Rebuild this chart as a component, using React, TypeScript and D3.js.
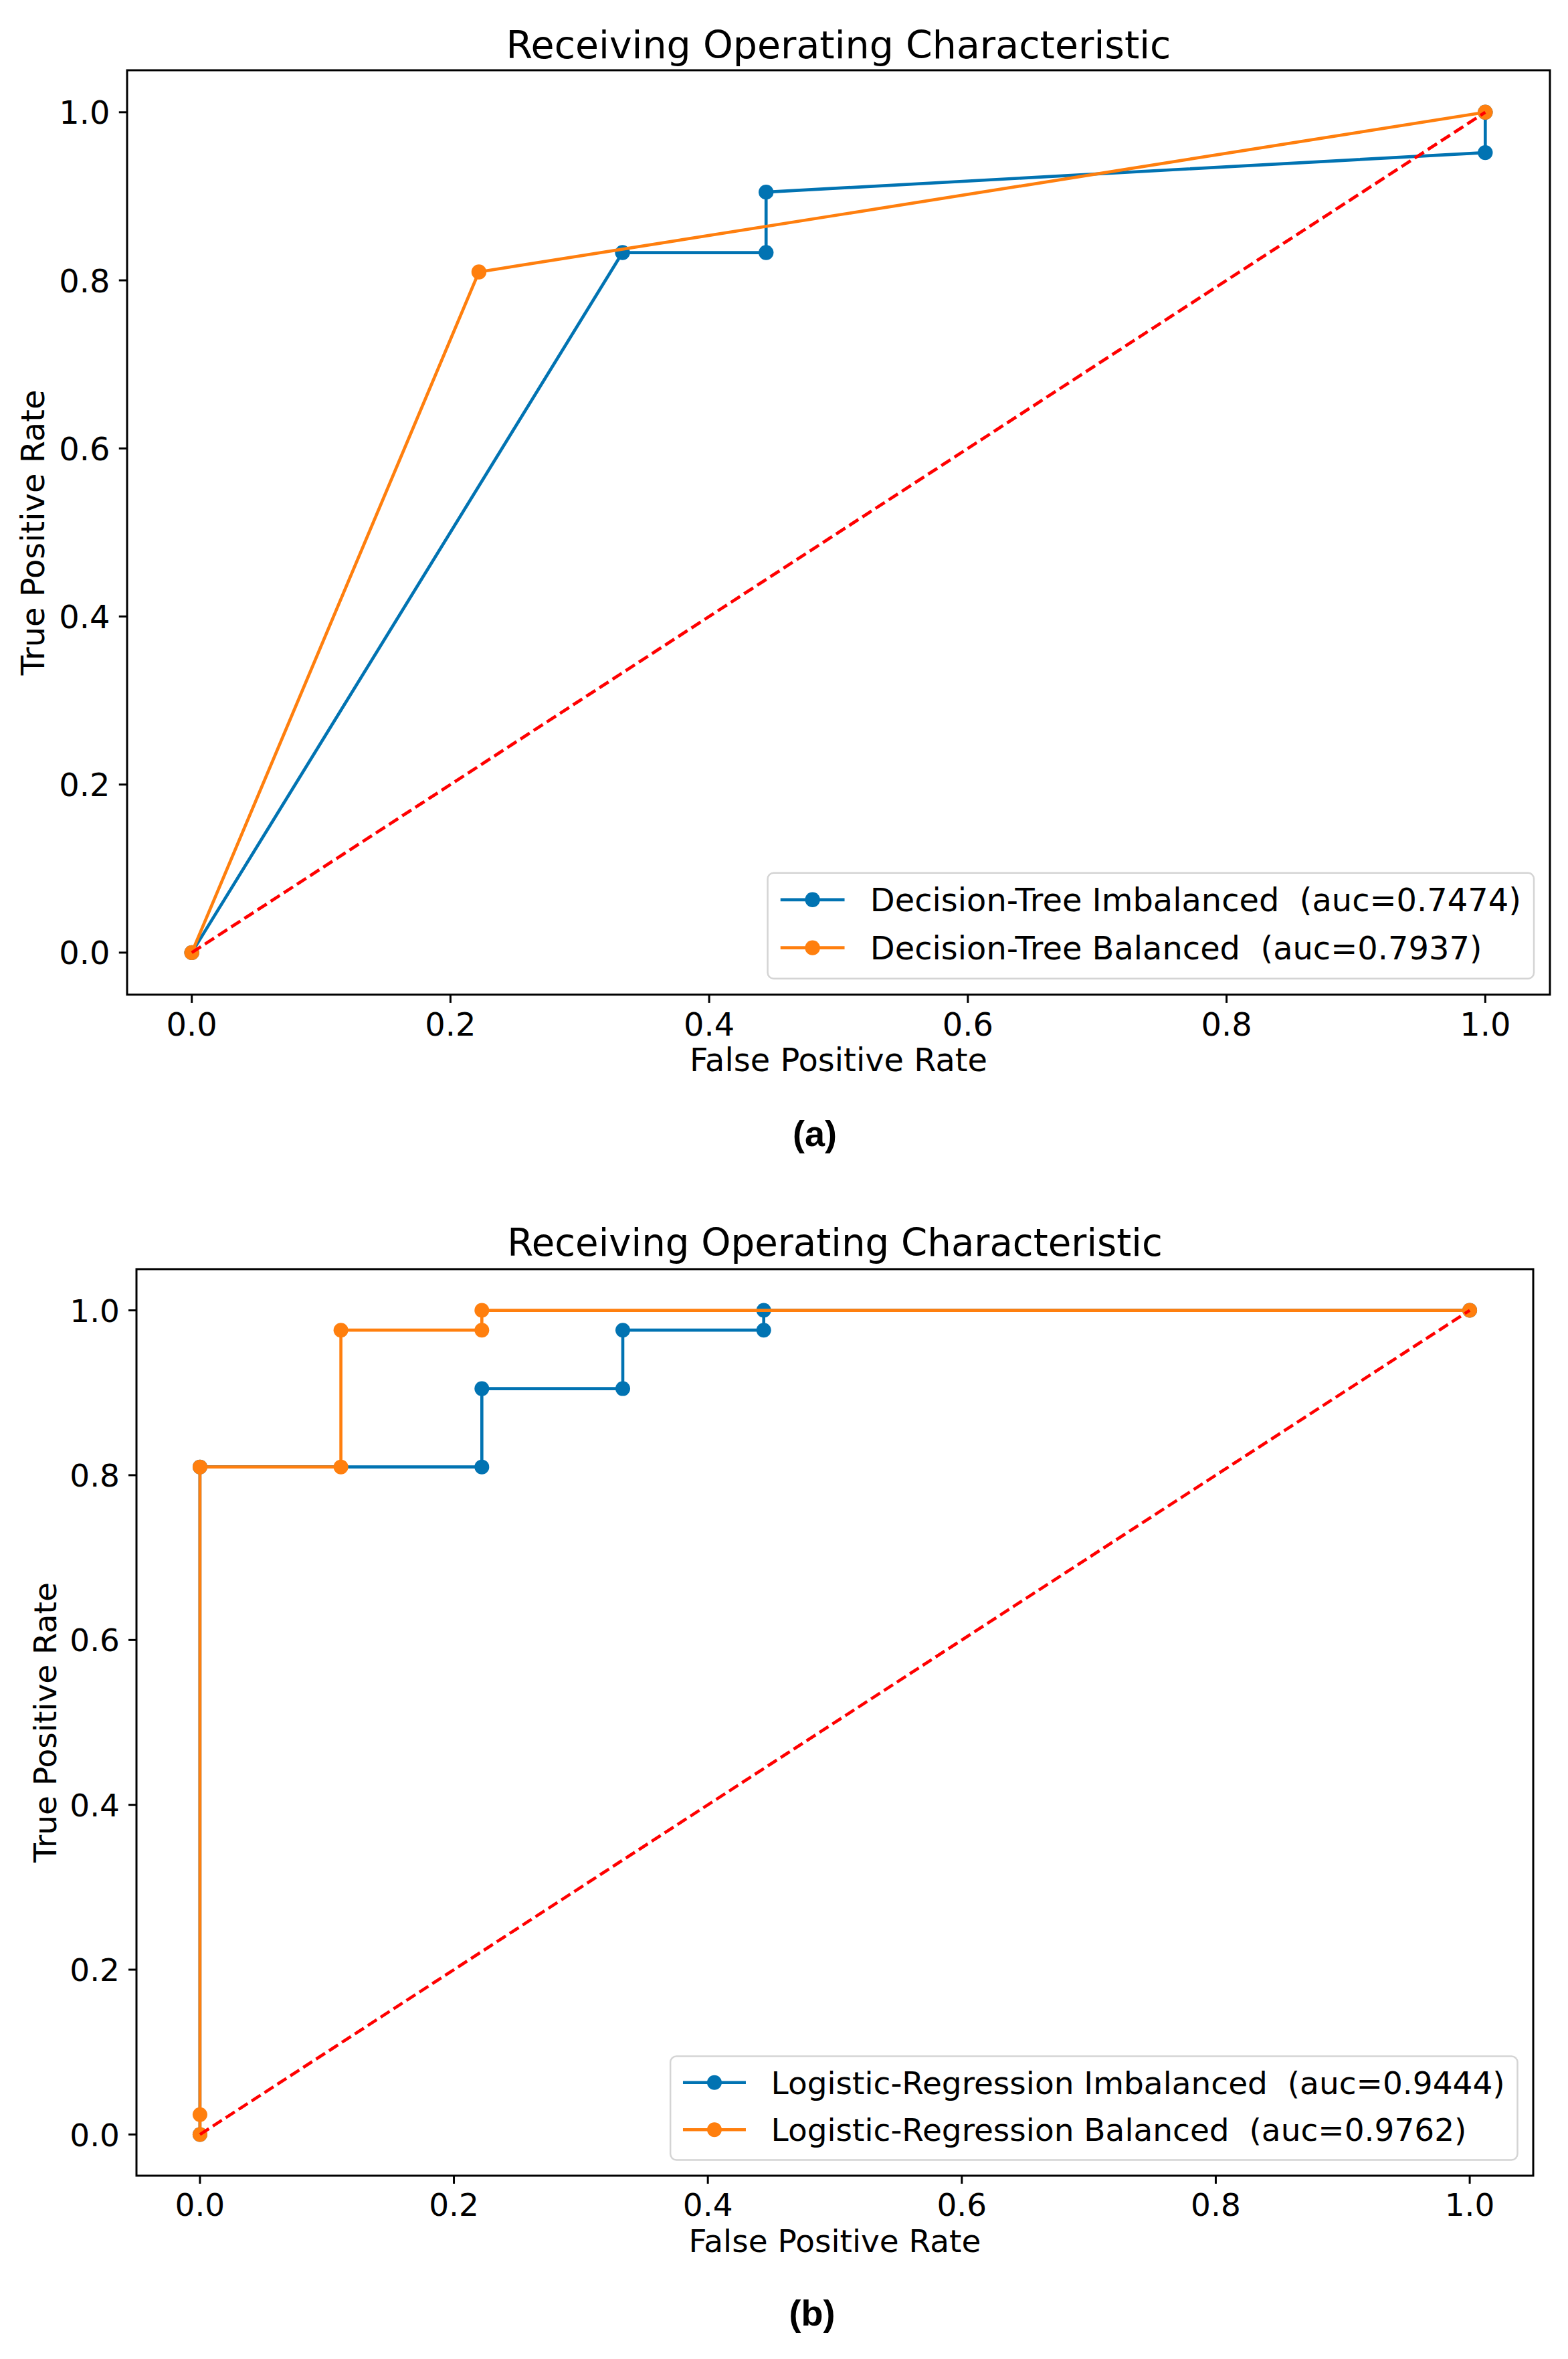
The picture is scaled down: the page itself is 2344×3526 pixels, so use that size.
import React from "react";
import * as d3 from "d3";

// ---------- data ----------
const xTicks = [0, 0.2, 0.4, 0.6, 0.8, 1.0];
const yTicks = [0, 0.2, 0.4, 0.6, 0.8, 1.0];
const tickFormat = (v: number) => v.toFixed(1);

const chartTitle = "Receiving Operating Characteristic";
const xLabel = "False Positive Rate";
const yLabel = "True Positive Rate";

// Panel (a): Decision tree
const dtImbFpr = [0, 0.333, 0.444, 0.444, 1.0, 1.0];
const dtImbTpr = [0, 0.833, 0.833, 0.905, 0.952, 1.0];
const dtBalFpr = [0, 0.222, 1.0];
const dtBalTpr = [0, 0.81, 1.0];

// Panel (b): Logistic regression
const lrImbFpr = [0, 0, 0.222, 0.222, 0.333, 0.333, 0.444, 0.444, 1.0];
const lrImbTpr = [0, 0.81, 0.81, 0.905, 0.905, 0.976, 0.976, 1.0, 1.0];
const lrBalFpr = [0, 0, 0, 0.111, 0.111, 0.222, 0.222, 1.0];
const lrBalTpr = [0, 0.024, 0.81, 0.81, 0.976, 0.976, 1.0, 1.0];

const chanceLine = [0, 1];

const BLUE = "#0173b2";
const ORANGE = "#ff7f0e";
const RED = "#ff0000";

type Series = { fpr: number[]; tpr: number[]; color: string; label: string };

const panelA: Series[] = [
  { fpr: dtImbFpr, tpr: dtImbTpr, color: BLUE, label: "Decision-Tree Imbalanced  (auc=0.7474)" },
  { fpr: dtBalFpr, tpr: dtBalTpr, color: ORANGE, label: "Decision-Tree Balanced  (auc=0.7937)" },
];
const panelB: Series[] = [
  { fpr: lrImbFpr, tpr: lrImbTpr, color: BLUE, label: "Logistic-Regression Imbalanced  (auc=0.9444)" },
  { fpr: lrBalFpr, tpr: lrBalTpr, color: ORANGE, label: "Logistic-Regression Balanced  (auc=0.9762)" },
];

// ---------- style ----------
const FONT = "'DejaVu Sans', sans-serif";
const BOLD_FONT = "'Liberation Sans', Arial, sans-serif";

function measureText(text: string, size: number): number {
  try {
    const ctx = document.createElement("canvas").getContext("2d");
    if (ctx) {
      ctx.font = `${size}px "DejaVu Sans"`;
      return ctx.measureText(text).width;
    }
  } catch (e) {}
  return text.length * size * 0.6;
}

type Layout = {
  left: number;
  right: number;
  top: number;
  bottom: number;
  fs: number;
  titleFs: number;
  titleBaseline: number;
  xLabelBaseline: number;
  yLabelX: number;
  letterX: number;
  letterBaseline: number;
};

function Panel({ series, layout, letter }: { series: Series[]; layout: Layout; letter: string }) {
  const { left, right, top, bottom, fs, titleFs } = layout;
  const k = fs / 47;
  const lineW = 4.6 * k;
  const markerR = 11 * k;
  const x = d3.scaleLinear().domain([-0.05, 1.05]).range([left, right]);
  const y = d3.scaleLinear().domain([-0.05, 1.05]).range([bottom, top]);
  const line = d3
    .line<[number, number]>()
    .x((d) => x(d[0]))
    .y((d) => y(d[1]));

  const cx = (left + right) / 2;
  const cy = (top + bottom) / 2;

  // legend
  const pad = 0.4 * fs;
  const rowH = fs;
  const spacing = 0.5 * fs;
  const handleLen = 2 * fs;
  const handlePad = 0.8 * fs;
  const maxW = Math.max(...series.map((s) => measureText(s.label, fs)));
  const lw = 2 * pad + handleLen + handlePad + maxW;
  const lh = 2 * pad + series.length * rowH + (series.length - 1) * spacing;
  const lRight = right - 0.5 * fs;
  const lBottom = bottom - 0.5 * fs;
  const lLeft = lRight - lw;
  const lTop = lBottom - lh;

  const tickLen = 12 * k;
  const tickPad = 13 * k;

  return (
    <g>
      {/* title */}
      <text x={cx} y={layout.titleBaseline} textAnchor="middle" fontFamily={FONT} fontSize={titleFs} fill="#000">
        {chartTitle}
      </text>

      {/* ticks */}
      {xTicks.map((t) => (
        <g key={"xt" + t}>
          <line x1={x(t)} x2={x(t)} y1={bottom} y2={bottom + tickLen} stroke="#000" strokeWidth={3} />
          <text
            x={x(t)}
            y={bottom + tickLen + tickPad + 0.74 * fs}
            textAnchor="middle"
            fontFamily={FONT}
            fontSize={fs}
            fill="#000"
          >
            {tickFormat(t)}
          </text>
        </g>
      ))}
      {yTicks.map((t) => (
        <g key={"yt" + t}>
          <line x1={left - tickLen} x2={left} y1={y(t)} y2={y(t)} stroke="#000" strokeWidth={3} />
          <text
            x={left - tickLen - tickPad}
            y={y(t) + 0.365 * fs}
            textAnchor="end"
            fontFamily={FONT}
            fontSize={fs}
            fill="#000"
          >
            {tickFormat(t)}
          </text>
        </g>
      ))}

      {/* axis labels */}
      <text x={cx} y={layout.xLabelBaseline} textAnchor="middle" fontFamily={FONT} fontSize={fs} fill="#000">
        {xLabel}
      </text>
      <text
        transform={`translate(${layout.yLabelX},${cy}) rotate(-90)`}
        textAnchor="middle"
        fontFamily={FONT}
        fontSize={fs}
        fill="#000"
      >
        {yLabel}
      </text>

      {/* data */}
      <g>
        {series.map((s, i) => {
          const pts = s.fpr.map((f, j) => [f, s.tpr[j]] as [number, number]);
          return (
            <g key={"s" + i}>
              <path d={line(pts) || ""} fill="none" stroke={s.color} strokeWidth={lineW} strokeLinejoin="round" />
              {pts.map((p, j) => (
                <circle key={j} cx={x(p[0])} cy={y(p[1])} r={markerR} fill={s.color} />
              ))}
            </g>
          );
        })}
        <path
          d={line(chanceLine.map((v) => [v, v] as [number, number])) || ""}
          fill="none"
          stroke={RED}
          strokeWidth={lineW}
          strokeDasharray={`${16 * k} ${7 * k}`}
        />
      </g>

      {/* legend */}
      <rect
        x={lLeft}
        y={lTop}
        width={lw}
        height={lh}
        rx={9}
        ry={9}
        fill="#fff"
        fillOpacity={0.8}
        stroke="#d4d4d4"
        strokeWidth={2.5}
      />
      {series.map((s, i) => {
        const ry = lTop + pad + rowH / 2 + i * (rowH + spacing) - 3;
        const hx = lLeft + pad;
        return (
          <g key={"lg" + i}>
            <line x1={hx} x2={hx + handleLen} y1={ry} y2={ry} stroke={s.color} strokeWidth={lineW} />
            <circle cx={hx + handleLen / 2} cy={ry} r={markerR} fill={s.color} />
            <text
              x={hx + handleLen + handlePad}
              y={ry + 0.365 * fs}
              fontFamily={FONT}
              fontSize={fs}
              fill="#000"
              style={{ whiteSpace: "pre" }}
              xmlSpace="preserve"
            >
              {s.label}
            </text>
          </g>
        );
      })}

      {/* axes frame */}
      <rect x={left} y={top} width={right - left} height={bottom - top} fill="none" stroke="#000" strokeWidth={3} />

      {/* panel letter */}
      <text
        x={layout.letterX}
        y={layout.letterBaseline}
        textAnchor="middle"
        fontFamily={BOLD_FONT}
        fontWeight="bold"
        fontSize={54}
        fill="#000"
      >
        {letter}
      </text>
    </g>
  );
}

const layoutA: Layout = {
  left: 190,
  right: 2317,
  top: 105,
  bottom: 1486.7,
  fs: 47.9,
  titleFs: 57,
  titleBaseline: 87,
  xLabelBaseline: 1601,
  yLabelX: 66,
  letterX: 1218,
  letterBaseline: 1713,
};

const layoutB: Layout = {
  left: 204,
  right: 2292,
  top: 1897,
  bottom: 3252,
  fs: 47,
  titleFs: 56.2,
  titleBaseline: 1877,
  xLabelBaseline: 3366,
  yLabelX: 84,
  letterX: 1214,
  letterBaseline: 3476,
};

export default function App() {
  return (
    <div style={{ position: "absolute", left: 0, top: 0, width: 2344, height: 3526, background: "#fff" }}>
      <svg width={2344} height={3526} viewBox="0 0 2344 3526" style={{ display: "block" }}>
        <rect x={0} y={0} width={2344} height={3526} fill="#fff" />
        <Panel series={panelA} layout={layoutA} letter="(a)" />
        <Panel series={panelB} layout={layoutB} letter="(b)" />
      </svg>
    </div>
  );
}
